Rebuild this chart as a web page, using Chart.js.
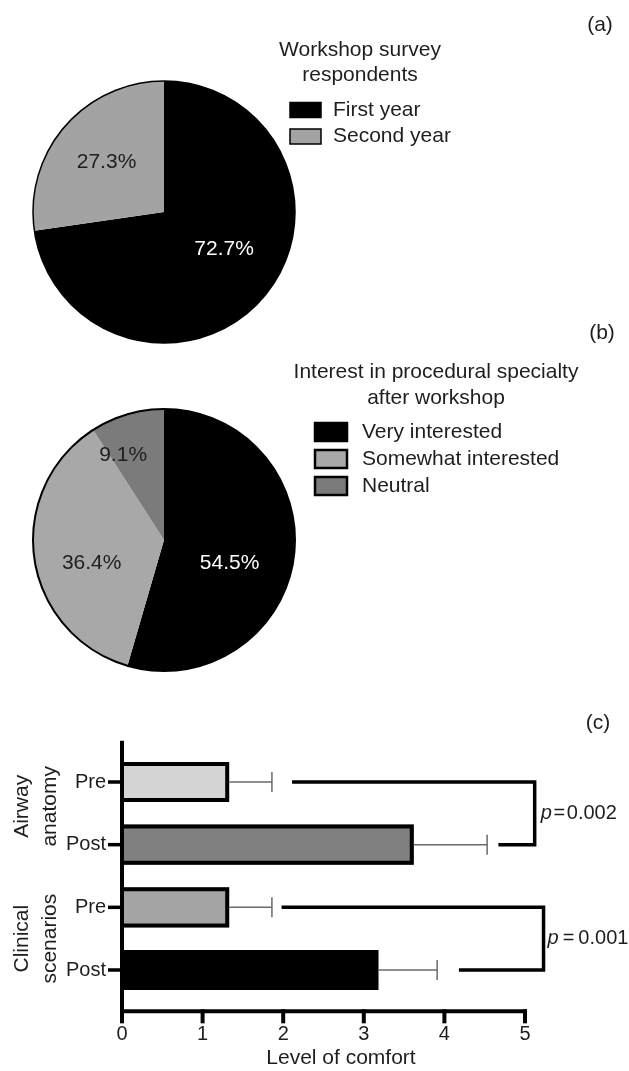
<!DOCTYPE html>
<html>
<head>
<meta charset="utf-8">
<title>Workshop survey</title>
<script src="https://cdn.jsdelivr.net/npm/chart.js@4.4.1/dist/chart.umd.min.js"></script>
<style>
  html, body { margin: 0; padding: 0; background: #ffffff; }
  body { width: 629px; height: 1071px; position: relative; overflow: hidden; }
  canvas { position: absolute; left: 0; top: 0; }
</style>
</head>
<body>
<canvas id="pieYear" width="629" height="1071"></canvas>
<canvas id="pieInterest" width="629" height="1071"></canvas>
<canvas id="comfort" width="629" height="1071"></canvas>
<script>
// ---------- data ----------
const yearLabels = ['First year', 'Second year'];
const yearShare = [72.7, 27.3];
const yearTitle = ['Workshop survey', 'respondents'];

const interestLabels = ['Very interested', 'Somewhat interested', 'Neutral'];
const interestShare = [54.5, 36.4, 9.1];
const interestTitle = ['Interest in procedural specialty', 'after workshop'];

const comfortRows = ['Pre', 'Post', 'Pre', 'Post'];
const comfortMean = [1.33, 3.62, 1.33, 3.18];
const comfortSD = [0.53, 0.91, 0.53, 0.73];
const comfortGroups = [['Airway', 'anatomy'], ['Clinical', 'scenarios']];
const groupRows = [[0, 1], [2, 3]];
const xTicks = [0, 1, 2, 3, 4, 5];

// significance brackets (x in comfort units)
const pValues = ['0.002', '0.001'];
const bracketFromTop = [2.11, 1.98];
const bracketFromBottom = [4.67, 4.18];
const bracketSide = [5.12, 5.23];

// ---------- look ----------
const FONT = "'Liberation Sans', Arial, Helvetica, sans-serif";
const INK = '#1e1e1e';
Chart.defaults.font.family = FONT;
Chart.defaults.color = INK;

const W = 629, H = 1071;

// Pie outline, slice percentages, legend block and panel letter
const pieDecor = {
  id: 'pieDecor',
  afterDatasetsDraw(chart, _args, o) {
    const ctx = chart.ctx;
    const meta = chart.getDatasetMeta(0);
    const first = meta.data[0].getProps(['x', 'y', 'outerRadius'], true);
    ctx.save();
    ctx.beginPath();
    ctx.arc(first.x, first.y, first.outerRadius, 0, Math.PI * 2);
    ctx.lineWidth = o.outline;
    ctx.strokeStyle = '#000';
    ctx.stroke();

    ctx.font = `${o.fontSize}px ${FONT}`;
    ctx.textAlign = 'center';
    ctx.textBaseline = 'middle';
    const values = chart.data.datasets[0].data;
    meta.data.forEach((arc, i) => {
      const p = arc.getProps(['startAngle', 'endAngle'], true);
      const mid = (p.startAngle + p.endAngle) / 2 + o.labelTurn[i] * Math.PI / 180;
      const r = first.outerRadius * o.labelRadius[i];
      ctx.fillStyle = o.labelColors[i];
      ctx.fillText(values[i].toFixed(1) + '%', first.x + Math.cos(mid) * r, first.y + Math.sin(mid) * r);
    });
    ctx.restore();
  },
  afterDraw(chart, _args, o) {
    const ctx = chart.ctx;
    const ds = chart.data.datasets[0];
    ctx.save();
    ctx.font = `${o.fontSize}px ${FONT}`;
    ctx.fillStyle = INK;
    ctx.textBaseline = 'middle';
    ctx.textAlign = 'center';
    o.title.forEach((line, k) => ctx.fillText(line, o.titleX, o.titleY + k * o.titleGap));
    ctx.fillText(o.panel, o.panelX, o.panelY);

    ctx.textAlign = 'left';
    chart.data.labels.forEach((label, i) => {
      const cy = o.itemY + i * o.itemGap;
      ctx.fillStyle = ds.backgroundColor[i];
      ctx.fillRect(o.boxX, cy - o.boxH / 2, o.boxW, o.boxH);
      ctx.lineWidth = o.boxBorder;
      ctx.strokeStyle = '#000';
      ctx.strokeRect(o.boxX, cy - o.boxH / 2, o.boxW, o.boxH);
      ctx.fillStyle = INK;
      ctx.fillText(label, o.textX, cy);
    });
    ctx.restore();
  }
};

function pieConfig(labels, values, colors, box, decor) {
  return {
    type: 'pie',
    data: {
      labels: labels,
      datasets: [{ data: values, backgroundColor: colors, borderWidth: 0, hoverOffset: 0 }]
    },
    options: {
      responsive: false,
      animation: false,
      events: [],
      layout: { padding: { left: box.left, top: box.top, right: W - box.right, bottom: H - box.bottom } },
      plugins: { legend: { display: false }, tooltip: { enabled: false }, pieDecor: decor }
    },
    plugins: [pieDecor]
  };
}

new Chart(document.getElementById('pieYear'), pieConfig(
  yearLabels, yearShare, ['#000000', '#a3a3a3'],
  { left: 33, top: 81, right: 295, bottom: 343 },
  {
    outline: 1.5, fontSize: 21,
    labelRadius: [0.54, 0.58], labelTurn: [-9, 0], labelColors: ['#ffffff', INK],
    title: yearTitle, titleX: 360, titleY: 50, titleGap: 25,
    boxX: 290, boxW: 31, boxH: 15, itemY: 110, itemGap: 26.5, textX: 333, boxBorder: 1.5,
    panel: '(a)', panelX: 600, panelY: 25
  }
));

new Chart(document.getElementById('pieInterest'), pieConfig(
  interestLabels, interestShare, ['#000000', '#a8a8a8', '#7b7b7b'],
  { left: 33, top: 409, right: 295, bottom: 671 },
  {
    outline: 2, fontSize: 21,
    labelRadius: [0.53, 0.58, 0.72], labelTurn: [11, -9.5, -9.3], labelColors: ['#ffffff', INK, INK],
    title: interestTitle, titleX: 436, titleY: 372, titleGap: 26.5,
    boxX: 315, boxW: 32, boxH: 18, itemY: 432, itemGap: 27, textX: 362, boxBorder: 2.5,
    panel: '(b)', panelX: 602, panelY: 333
  }
));

// Bar outlines, axes, error bars, brackets and rotated group names for the comfort bars
const comfortDecor = {
  id: 'comfortDecor',
  afterDatasetsDraw(chart, _args, o) {
    const { ctx, chartArea: ca, scales: { x, y } } = chart;
    ctx.save();

    // bar outlines (top, end and bottom sides)
    const half = o.barEdge / 2;
    ctx.strokeStyle = '#000';
    ctx.lineWidth = o.barEdge;
    ctx.lineJoin = 'miter';
    chart.getDatasetMeta(0).data.forEach(bar => {
      const b = bar.getProps(['x', 'y', 'base', 'height'], true);
      const top = b.y - b.height / 2 + half;
      const bottom = b.y + b.height / 2 - half;
      ctx.beginPath();
      ctx.moveTo(b.base, top);
      ctx.lineTo(b.x - half, top);
      ctx.lineTo(b.x - half, bottom);
      ctx.lineTo(b.base, bottom);
      ctx.stroke();
    });

    // error bars (mean + SD)
    ctx.strokeStyle = o.errColor;
    ctx.lineWidth = o.errWidth;
    comfortMean.forEach((m, i) => {
      const yc = y.getPixelForValue(i);
      const x0 = x.getPixelForValue(m);
      const x1 = x.getPixelForValue(m + comfortSD[i]);
      ctx.beginPath();
      ctx.moveTo(x0, yc); ctx.lineTo(x1, yc);
      ctx.moveTo(x1, yc - o.capHalf); ctx.lineTo(x1, yc + o.capHalf);
      ctx.stroke();
    });

    // axis lines and tick marks
    const axisY = ca.bottom + o.axisGap;
    ctx.strokeStyle = '#000';
    ctx.lineWidth = o.axisWidth;
    ctx.beginPath();
    ctx.moveTo(ca.left, ca.top - o.axisGap);
    ctx.lineTo(ca.left, axisY);
    ctx.moveTo(ca.left - o.axisWidth / 2, axisY);
    ctx.lineTo(ca.right + o.axisWidth / 2, axisY);
    ctx.stroke();
    x.ticks.forEach(t => {
      const px = x.getPixelForValue(t.value);
      ctx.beginPath();
      ctx.moveTo(px, axisY - o.axisWidth / 2);
      ctx.lineTo(px, axisY + o.xTickLen);
      ctx.stroke();
    });
    ctx.lineWidth = o.yTickWidth;
    comfortRows.forEach((_, i) => {
      const py = y.getPixelForValue(i);
      ctx.beginPath();
      ctx.moveTo(ca.left - o.yTickLen, py);
      ctx.lineTo(ca.left, py);
      ctx.stroke();
    });

    // significance brackets
    ctx.lineWidth = o.bracketWidth;
    ctx.textBaseline = 'middle';
    ctx.textAlign = 'left';
    ctx.fillStyle = INK;
    groupRows.forEach((rows, g) => {
      const y0 = y.getPixelForValue(rows[0]);
      const y1 = y.getPixelForValue(rows[1]);
      const xr = x.getPixelForValue(bracketSide[g]);
      ctx.beginPath();
      ctx.moveTo(x.getPixelForValue(bracketFromTop[g]), y0);
      ctx.lineTo(xr, y0);
      ctx.lineTo(xr, y1);
      ctx.lineTo(x.getPixelForValue(bracketFromBottom[g]), y1);
      ctx.stroke();

      const tx = xr + o.pGap[g];
      const ty = (y0 + y1) / 2;
      ctx.font = `italic ${o.pFontSize}px ${FONT}`;
      ctx.fillText('p', tx, ty);
      const pw = ctx.measureText('p').width;
      ctx.font = `${o.pFontSize}px ${FONT}`;
      ctx.fillText(o.pJoin[g] + pValues[g], tx + pw, ty);
    });
    ctx.restore();
  },
  afterDraw(chart, _args, o) {
    const { ctx, chartArea: ca, scales: { y } } = chart;
    ctx.save();
    ctx.font = `${o.fontSize}px ${FONT}`;
    ctx.fillStyle = INK;
    ctx.textAlign = 'center';
    ctx.textBaseline = 'middle';
    groupRows.forEach((rows, g) => {
      const yc = (y.getPixelForValue(rows[0]) + y.getPixelForValue(rows[1])) / 2 + o.groupShift[g];
      comfortGroups[g].forEach((line, k) => {
        ctx.save();
        ctx.translate(o.groupX[k], yc);
        ctx.rotate(-Math.PI / 2);
        ctx.fillText(line, 0, 0);
        ctx.restore();
      });
    });
    ctx.fillText('Level of comfort', o.titleX, ca.bottom + o.titleDrop);
    ctx.fillText('(c)', o.panelX, o.panelY);
    ctx.restore();
  }
};

new Chart(document.getElementById('comfort'), {
  type: 'bar',
  data: {
    labels: comfortRows,
    datasets: [{
      data: comfortMean,
      backgroundColor: ['#d4d4d4', '#808080', '#a4a4a4', '#000000'],
      borderWidth: 0,
      categoryPercentage: 1,
      barPercentage: 0.64
    }]
  },
  options: {
    indexAxis: 'y',
    responsive: false,
    animation: false,
    events: [],
    layout: { padding: { left: 0, top: 750.67, right: 104, bottom: 0 } },
    scales: {
      x: {
        min: 0, max: 5,
        afterBuildTicks: s => { s.ticks = xTicks.map(v => ({ value: v })); },
        ticks: { padding: 21, font: { size: 20 }, color: INK },
        grid: { display: false, drawTicks: false },
        border: { display: false },
        afterFit: s => { s.height = 69.67; }
      },
      y: {
        ticks: { padding: 16, font: { size: 20 }, color: INK },
        grid: { display: false, drawTicks: false },
        border: { display: false },
        afterFit: s => { s.width = 122; }
      }
    },
    plugins: {
      legend: { display: false },
      tooltip: { enabled: false },
      comfortDecor: {
        fontSize: 21, pFontSize: 20, barEdge: 4,
        errColor: '#6a6a6a', errWidth: 1.5, capHalf: 10,
        axisGap: 10, axisWidth: 4, xTickLen: 12, yTickLen: 14, yTickWidth: 3.5,
        bracketWidth: 3.5, pGap: [6, 4], pJoin: ['\u200A=\u200A', '\u2009=\u2009'],
        groupX: [22, 50], groupShift: [-7, 0],
        titleX: 341, titleDrop: 57,
        panelX: 598, panelY: 723
      }
    }
  },
  plugins: [comfortDecor]
});
</script>
</body>
</html>
